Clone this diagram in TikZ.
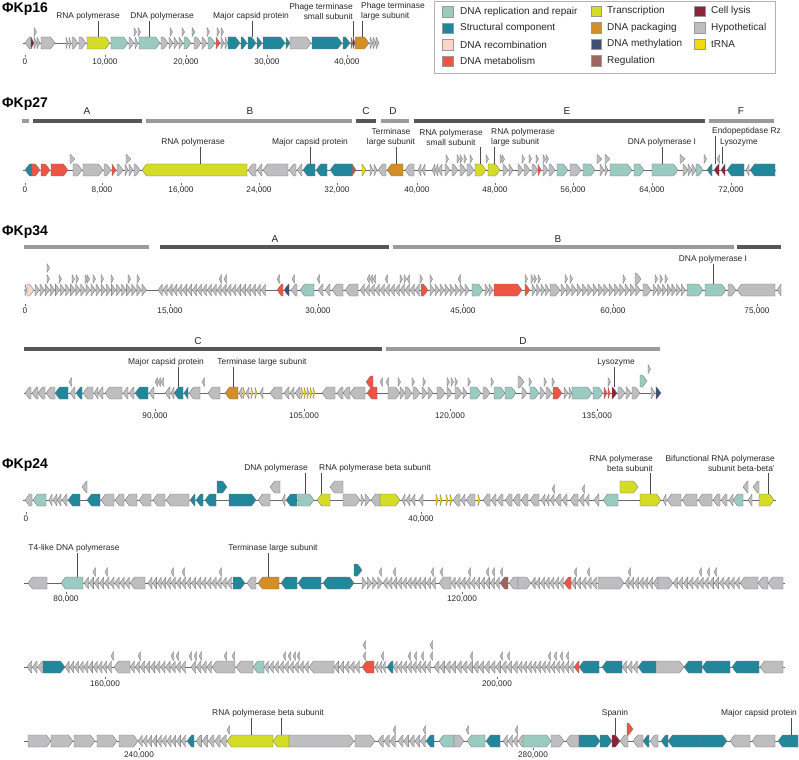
\documentclass[tikz,border=0pt]{standalone}
\usepackage{fontspec}
\setmainfont{Liberation Sans}
\definecolor{rep}{HTML}{9BCAC0}
\definecolor{struct}{HTML}{22879A}
\definecolor{recomb}{HTML}{F9D6C8}
\definecolor{metab}{HTML}{EE5444}
\definecolor{trans}{HTML}{D5DC26}
\definecolor{pack}{HTML}{D38E27}
\definecolor{meth}{HTML}{3E5173}
\definecolor{regul}{HTML}{A0645F}
\definecolor{lysis}{HTML}{8C2339}
\definecolor{hyp}{HTML}{BEBEC0}
\definecolor{trna}{HTML}{F5D90A}
\definecolor{segdark}{HTML}{575757}
\definecolor{seglight}{HTML}{9B9B9B}

% one gene: [half height] from, to, lane y, direction (1 right, -1 left), colour
\newcommand{\gene}[6][6]{%
  \pgfmathsetmacro\gh{min(4.5,(#3)-(#2))}%
  \ifnum#5>0
    \draw[genebox,fill=#6] (#2,#4-#1) -- ({#3-\gh},#4-#1) -- (#3,#4) -- ({#3-\gh},#4+#1) -- (#2,#4+#1) -- cycle;
  \else
    \draw[genebox,fill=#6] (#3,#4-#1) -- ({#2+\gh},#4-#1) -- (#2,#4) -- ({#2+\gh},#4+#1) -- (#3,#4+#1) -- cycle;
  \fi}
% a run of small hypothetical genes: from, to, count, lane y, direction
\newcommand{\genrun}[5]{%
  \foreach \i in {1,...,#3}{%
    \pgfmathsetmacro\ra{#1+(\i-1)*(#2-#1)/#3}%
    \pgfmathsetmacro\rb{\ra+(#2-#1)/#3-0.6}%
    \gene{\ra}{\rb}{#4}{#5}{hyp}}}
% tick marks and numbers: tag, baseline, list
\newcommand{\tickrow}[3]{%
  \foreach \t/\l in {#3}{%
    \draw[tickmark] (\t,#2-9.5) -- (\t,#2-7.5);
    \node[tick] (#1-\t) at (\t,#2) {\l};}}

\begin{document}
\begin{tikzpicture}[x=1pt,y=-1pt,
    genebox/.style={draw=black!55,line width=0.3pt,line join=round},
    spine/.style={draw=black!60,line width=0.6pt},
    leader/.style={draw=black!70,line width=0.4pt},
    tickmark/.style={draw=black!60,line width=0.4pt},
    lbl/.style={font=\fontsize{8.4}{10}\selectfont,inner sep=1pt,text=black!85},
    tick/.style={font=\fontsize{8.2}{10}\selectfont,inner sep=0pt,anchor=base,text=black!85},
    title/.style={font=\bfseries\fontsize{14}{16}\selectfont,anchor=base west,inner sep=0pt},
    seg/.style={line width=3.5pt},
    seglbl/.style={font=\fontsize{10}{12}\selectfont,anchor=base,inner sep=0pt,text=black!85},
    swatch/.style={draw=black!40,line width=0.4pt,minimum size=10.5pt,inner sep=0pt},
    key/.style={font=\fontsize{10}{12}\selectfont,anchor=west,inner sep=0pt,text=black!85}]
  \useasboundingbox (0,0) rectangle (799,759);

  % Legend
  \draw[black!30,line width=0.5pt] (434,1) rectangle (775,73);
  \foreach \col/\txt [count=\k] in {rep/DNA replication and repair,struct/Structural component,recomb/DNA recombination,metab/DNA metabolism}{
    \node[swatch,fill=\col] (sw-\col) at (447.5,{11.5+16.5*(\k-1)}) {};
    \node[key] (key-\col) at (460,{11.5+16.5*(\k-1)}) {\txt};}
  \foreach \col/\txt [count=\k] in {trans/Transcription,pack/DNA packaging,meth/DNA methylation,regul/Regulation}{
    \node[swatch,fill=\col] (sw-\col) at (596,{11+16.5*(\k-1)}) {};
    \node[key] (key-\col) at (607,{11+16.5*(\k-1)}) {\txt};}
  \foreach \col/\txt [count=\k] in {lysis/Cell lysis,hyp/Hypothetical,trna/tRNA}{
    \node[swatch,fill=\col] (sw-\col) at (699.5,{11+16.5*(\k-1)}) {};
    \node[key] (key-\col) at (711,{11+16.5*(\k-1)}) {\txt};}

  % ---------------- PhiKp16 ----------------
  \node[title] (tKp16) at (2,13) {ΦKp16};
  \draw[spine] (23,43) -- (379,43);
  \foreach \xa/\xb/\dr/\col in {25/31/-1/hyp,31/34/1/lysis,34/37/1/hyp,37/40/1/hyp,41/55/1/hyp,66/68/1/hyp,69/71/1/hyp,72/78/1/hyp,79/86/1/hyp,
      87/110/1/trans,111/128/1/rep,129/134/1/hyp,135/138/1/hyp,139/160/1/rep,161/168/1/hyp,169/173/1/hyp,174/178/1/hyp,179/183/1/hyp,
      184/191/1/rep,194/201/1/hyp,202/207/1/hyp,208/215/1/rep,216/220/1/metab,221/224/1/hyp,225/228/1/hyp,228/240/1/struct,241/247/1/struct,
      248/256/1/struct,257/262/1/struct,263/285/1/struct,286/290/1/struct,290/311/1/hyp,312/342/1/struct,343/350/1/struct,351/353/1/regul,
      353/355/1/lysis,355/369/1/pack,370/373/1/hyp,373/376/1/hyp,376/379/1/hyp}
    {\gene{\xa}{\xb}{43}{\dr}{\col}}
  \foreach \u in {34,134,138,170,182,207,217,221} {\gene[4.5]{\u}{\u+2.5}{32}{1}{hyp}}
  \gene[4.5]{192}{195}{32}{1}{rep}
  \tickrow{t16}{65}{25/0,105/{10,000},186/{20,000},267/{30,000},347/{40,000}}
  \node[lbl,anchor=south] (lRnaPol16) at (88,21) {RNA polymerase};
  \node[lbl,anchor=south] (lDnaPol16) at (162,21) {DNA polymerase};
  \node[lbl,anchor=south] (lCapsid16) at (251,21) {Major capsid protein};
  \node[lbl,anchor=south east,align=right] (lTermS16) at (354,21) {Phage terminase\\small subunit};
  \node[lbl,anchor=south west,align=left] (lTermL16) at (360,21) {Phage terminase\\large subunit};
  \coordinate (gRnaPol16) at (98,37);
  \coordinate (gDnaPol16) at (149,37);
  \coordinate (gCapsid16) at (252,37);
  \coordinate (gTermS16) at (353,37);
  \coordinate (gTermL16) at (362,37);
  \foreach \n in {RnaPol16,DnaPol16,Capsid16,TermS16,TermL16}
    \draw[leader] (l\n.south -| g\n) -- (g\n);

  % ---------------- PhiKp27 ----------------
  \node[title] (tKp27) at (2,108) {ΦKp27};
  \draw[seg,seglight] (22,121) -- (29,121);
  \draw[seg,segdark] (33,121) -- (142,121);
  \draw[seg,seglight] (146,121) -- (352,121);
  \draw[seg,segdark] (356,121) -- (376,121);
  \draw[seg,seglight] (381,121) -- (409,121);
  \draw[seg,segdark] (414,121) -- (705,121);
  \draw[seg,seglight] (709,121) -- (774,121);
  \foreach \s/\x in {A/87,B/250,C/366,D/393,E/567,F/741}
    \node[seglbl] (s27\s) at (\x,115) {\s};
  \draw[spine] (23,170) -- (776,170);
  \foreach \xa/\xb/\dr/\col in {25/32/-1/struct,32/40/1/metab,41/50/1/metab,51/68/1/metab,73/82/1/hyp,83/103/1/hyp,104/111/1/hyp,112/116/1/metab,
      117/123/1/hyp,125/128/1/hyp,129/133/1/hyp,134/140/1/hyp,142/247/-1/trans,248/256/-1/hyp,257/262/-1/hyp,263/288/-1/hyp,289/296/-1/hyp,
      297/302/-1/hyp,303/315/-1/struct,316/327/-1/struct,330/352/-1/struct,352/356/1/regul,362/366/1/trna,370/373/1/hyp,374/377/1/hyp,
      378/386/-1/hyp,387/403/-1/pack,405/414/-1/hyp,418/421/-1/hyp,422/425/-1/hyp,432/435/-1/hyp,435/438/-1/hyp,438/442/-1/hyp,
      445/450/1/hyp,452/458/1/hyp,460/466/1/hyp,467/474/1/hyp,475/486/1/trans,488/500/1/trans,503/508/1/hyp,509/513/1/hyp,518/523/1/hyp,
      524/530/1/hyp,532/538/1/hyp,538/541/1/metab,543/548/1/hyp,549/555/1/hyp,557/568/1/rep,570/581/1/hyp,583/595/1/rep,600/604/1/hyp,
      605/608/1/hyp,610/632/1/rep,634/644/1/rep,652/678/1/rep,683/688/1/hyp,688/692/1/hyp,692/696/1/hyp,696/703/1/rep,707/712/-1/struct,
      714/719/-1/lysis,721/725/-1/lysis,727/744/-1/struct,746/749/-1/hyp,750/775/-1/struct}
    {\gene{\xa}{\xb}{170}{\dr}{\col}}
  \foreach \u in {446,457,460,464,470,486,500,502,522,529,536,543,546,704} {\gene[4.5]{\u}{\u+2.5}{159}{1}{hyp}}
  \foreach \u in {70,126,597,605,680} {\gene[4.5]{\u}{\u+5}{159}{1}{hyp}}
  \gene[4.5]{717}{719.5}{159}{-1}{hyp}
  \tickrow{t27}{193}{25/0,102/{8,000},181/{16,000},259/{24,000},337/{32,000},417/{40,000},495/{48,000},573/{56,000},652/{64,000},731/{72,000}}
  \node[lbl,anchor=south] (lRnaPol27) at (193,147) {RNA polymerase};
  \node[lbl,anchor=south] (lCapsid27) at (310,147) {Major capsid protein};
  \node[lbl,anchor=south,align=center] (lTerm27) at (391,147) {Terminase\\large subunit};
  \node[lbl,anchor=south,align=center] (lRnaS27) at (451,147) {RNA polymerase\\small subunit};
  \node[lbl,anchor=south west,align=left] (lRnaL27) at (490,147) {RNA polymerase\\large subunit};
  \node[lbl,anchor=south] (lDnaPol27) at (662,147) {DNA polymerase I};
  \node[lbl,anchor=south west] (lEndo27) at (711,136) {Endopeptidase Rz};
  \node[lbl,anchor=south west] (lLyso27) at (719,147) {Lysozyme};
  \coordinate (gRnaPol27) at (200,164);
  \coordinate (gCapsid27) at (310,164);
  \coordinate (gTerm27) at (396,164);
  \coordinate (gRnaS27) at (480,164);
  \coordinate (gRnaL27) at (494,164);
  \coordinate (gDnaPol27) at (662,164);
  \coordinate (gEndo27) at (715,164);
  \coordinate (gLyso27) at (722,164);
  \foreach \n in {RnaPol27,Capsid27,Term27,RnaS27,RnaL27,DnaPol27,Lyso27}
    \draw[leader] (l\n.south -| g\n) -- (g\n);
  \draw[leader] (lEndo27.south -| gEndo27) -- (gEndo27);

  % ---------------- PhiKp34 ----------------
  \node[title] (tKp34) at (2,235) {ΦKp34};
  \draw[seg,seglight] (24,247) -- (149,247);
  \draw[seg,segdark] (160,247) -- (389,247);
  \draw[seg,seglight] (393,247) -- (734,247);
  \draw[seg,segdark] (737,247) -- (781,247);
  \node[seglbl] (s34A) at (275,242) {A};
  \node[seglbl] (s34B) at (558,242) {B};
  \draw[spine] (24,290) -- (781,290);
  \gene{25}{27}{290}{1}{hyp}
  \gene{27}{34}{290}{1}{recomb}
  \genrun{35}{147}{22}{290}{1}
  \genrun{158}{266}{22}{290}{-1}
  \foreach \xa/\xb/\dr/\col in {277/283/-1/metab,284/289/-1/meth,291/297/-1/hyp,300/314/-1/rep,318/323/-1/hyp,325/330/-1/hyp,332/343/-1/hyp,
      345/358/-1/hyp,421/428/1/metab,472/483/1/rep,485/489/1/hyp,489/493/1/hyp,494/522/1/metab,525/530/1/metab,550/560/1/hyp,643/651/1/hyp,
      687/703/1/rep,705/726/1/rep,728/736/1/hyp,737/775/-1/hyp,777/781/-1/hyp}
    {\gene{\xa}{\xb}{290}{\dr}{\col}}
  \genrun{360}{420}{12}{290}{-1}
  \genrun{430}{470}{8}{290}{1}
  \genrun{532}{550}{4}{290}{1}
  \genrun{561}{641}{15}{290}{1}
  \genrun{653}{686}{7}{290}{1}
  \foreach \u in {47,59,72,76,85,87,93,101,111,128,137,400,404,420,430,525,531,534,538,565,570,623,655,660,665} {\gene[4.5]{\u}{\u+2.5}{279}{1}{hyp}}
  \foreach \u in {219,224,277,292,317,367,370,373,385,407,458} {\gene[4.5]{\u}{\u+2.5}{279}{-1}{hyp}}
  \gene[4.5]{47}{49.5}{268}{1}{hyp}
  \gene{635}{641}{279}{1}{hyp}
  \tickrow{t34}{313}{25/0,170/{15,000},318/{30,000},463/{45,000},613/{60,000},757/{75,000}}
  \node[lbl,anchor=south] (lDnaPol34) at (713,264) {DNA polymerase I};
  \coordinate (gDnaPol34) at (713,284);
  \draw[leader] (lDnaPol34.south -| gDnaPol34) -- (gDnaPol34);

  % PhiKp34, second line
  \draw[seg,segdark] (24,349) -- (382,349);
  \draw[seg,seglight] (386,349) -- (660,349);
  \node[seglbl] (s34C) at (198,344) {C};
  \node[seglbl] (s34D) at (523,344) {D};
  \draw[spine] (24,393) -- (661,393);
  \foreach \xa/\xb/\dr/\col in {25/31/-1/hyp,32/38/-1/hyp,38/45/-1/hyp,46/55/-1/hyp,55/68/-1/struct,70/75/-1/hyp,76/82/-1/struct,83/93/-1/hyp,
      94/98/-1/hyp,98/103/-1/hyp,105/122/-1/hyp,123/128/-1/hyp,129/134/-1/hyp,135/148/-1/struct,149/154/-1/hyp,165/170/-1/hyp,171/174/-1/hyp,
      174/183/-1/struct,184/188/-1/struct,189/200/-1/hyp,208/220/-1/hyp,225/238/-1/pack,239/242/-1/hyp,243/245/1/trna,246/249/-1/hyp,
      251/253/1/trna,255/257/1/trna,260/263/-1/hyp,270/282/-1/hyp,284/289/-1/hyp,290/294/-1/hyp,295/300/-1/hyp,301/303/1/trna,304/306/1/trna,
      307/309/1/hyp,310/312/1/trna,313/315/1/trna,322/335/-1/hyp,337/343/-1/hyp,343/350/-1/hyp,350/365/-1/hyp,367/377/-1/metab,388/400/1/hyp,
      400/405/1/hyp,405/412/1/hyp,413/420/1/hyp,422/427/1/hyp,428/433/1/hyp,437/445/1/hyp,447/452/1/hyp,455/462/1/hyp,463/467/1/hyp,
      470/481/1/rep,483/490/1/hyp,494/505/1/rep,505/516/1/rep,522/527/1/hyp,530/539/1/rep,540/545/1/hyp,546/552/1/hyp,553/562/1/metab,
      564/568/1/hyp,569/572/1/hyp,572/592/1/rep,593/603/1/rep,604/607/1/metab,608/610/1/metab,612/617/1/lysis,618/625/1/hyp,626/631/1/hyp,
      632/640/1/hyp,651/655/1/hyp,656/661/1/meth}
    {\gene{\xa}{\xb}{393}{\dr}{\col}}
  \foreach \u in {69,155,158,161,202,380,386} {\gene[4.5]{\u}{\u+2.5}{382}{-1}{hyp}}
  \foreach \u in {398,412,423,447,451,455,468,491,529,544,552,608} {\gene[4.5]{\u}{\u+2.5}{382}{1}{hyp}}
  \gene{366}{373}{382}{-1}{metab}
  \gene{518}{524}{382}{1}{hyp}
  \gene{640}{647}{381}{1}{rep}
  \gene[4.5]{648}{650.5}{369}{1}{hyp}
  \tickrow{t34b}{418}{155/{90,000},304/{105,000},450/{120,000},597/{135,000}}
  \node[lbl,anchor=south] (lCapsid34) at (166,367) {Major capsid protein};
  \node[lbl,anchor=south] (lTerm34) at (262,367) {Terminase large subunit};
  \node[lbl,anchor=south] (lLyso34) at (616,367) {Lysozyme};
  \coordinate (gCapsid34) at (178,387);
  \coordinate (gTerm34) at (233,387);
  \coordinate (gLyso34) at (614,387);
  \foreach \n in {Capsid34,Term34,Lyso34}
    \draw[leader] (l\n.south -| g\n) -- (g\n);

  % ---------------- PhiKp24 ----------------
  \node[title] (tKp24) at (2,468) {ΦKp24};
  \draw[spine] (23,500) -- (776,500);
  \foreach \xa/\xb/\dr/\col in {25/32/-1/hyp,33/46/-1/rep,49/52/-1/hyp,53/57/-1/hyp,57/61/-1/hyp,62/67/-1/hyp,68/80/-1/struct,87/100/-1/struct,
      101/114/-1/hyp,115/124/-1/hyp,125/137/-1/hyp,139/151/-1/hyp,153/165/-1/hyp,166/189/-1/hyp,190/195/-1/struct,196/203/-1/struct,
      205/216/-1/struct,229/256/1/struct,258/270/-1/hyp,282/285/-1/hyp,286/297/-1/struct,298/314/1/rep,317/330/-1/trans,343/360/1/hyp,
      361/364/1/hyp,365/370/1/hyp,371/380/-1/hyp,380/400/1/trans,402/405/-1/hyp,406/410/-1/hyp,411/415/-1/hyp,419/423/-1/hyp,436/438/1/trna,
      440/442/1/trna,446/448/1/trna,450/452/1/trna,453/460/-1/hyp,461/465/-1/hyp,466/475/-1/hyp,478/480/1/trna,483/490/-1/hyp,491/496/-1/hyp,
      497/503/-1/hyp,505/512/-1/hyp,513/520/-1/hyp,521/528/-1/hyp,530/539/-1/hyp,541/545/-1/hyp,546/549/-1/hyp,550/554/-1/hyp,555/561/-1/hyp,
      562/567/-1/hyp,570/578/-1/hyp,579/584/-1/hyp,585/589/-1/hyp,594/599/-1/hyp,603/618/-1/rep,640/661/1/trans,663/666/-1/hyp,667/681/-1/hyp,
      682/697/-1/hyp,698/712/-1/hyp,713/720/-1/hyp,721/727/-1/hyp,729/733/-1/hyp,733/743/-1/rep,748/752/-1/hyp,759/774/1/trans}
    {\gene{\xa}{\xb}{500}{\dr}{\col}}
  \foreach \xa/\xb/\dr/\col in {82/87/-1/hyp,217/227/1/struct,270/280/-1/hyp,330/343/-1/hyp,620/638/1/trans,743/748/-1/hyp,753/759/-1/hyp}
    {\gene{\xa}{\xb}{487}{\dr}{\col}}
  \foreach \u in {552,582} {\gene[4.5]{\u}{\u+2.5}{489}{-1}{hyp}}
  \tickrow{t24}{521}{26/0,421/{40,000}}
  \node[lbl,anchor=south] (lDnaPol24) at (276,473) {DNA polymerase};
  \node[lbl,anchor=south west] (lRnaB24) at (318,473) {RNA polymerase beta subunit};
  \node[lbl,anchor=south east,align=right] (lRnaB24b) at (654,473) {RNA polymerase\\beta subunit};
  \node[lbl,anchor=south east,align=right] (lBifun24) at (776,473) {Bifunctional RNA polymerase\\subunit beta-beta'};
  \coordinate (gDnaPol24) at (305,494);
  \coordinate (gRnaB24) at (321,494);
  \coordinate (gRnaB24b) at (650,494);
  \coordinate (gBifun24) at (768,494);
  \foreach \n in {DnaPol24,RnaB24,RnaB24b,Bifun24}
    \draw[leader] (l\n.south -| g\n) -- (g\n);

  % PhiKp24, second line
  \draw[spine] (24,583) -- (785,583);
  \foreach \xa/\xb/\dr/\col in {28/47/-1/hyp,61/83/-1/rep,130/145/-1/hyp,233/245/1/struct,247/256/-1/hyp,258/279/-1/pack,281/297/-1/struct,
      298/321/-1/struct,323/332/-1/struct,332/354/1/struct,439/451/-1/hyp,500/508/-1/regul,509/518/-1/hyp,518/531/1/hyp,564/571/-1/metab,
      598/624/1/hyp,658/673/1/hyp,740/758/-1/hyp,758/768/-1/hyp,768/783/-1/hyp}
    {\gene{\xa}{\xb}{583}{\dr}{\col}}
  \genrun{84}{130}{9}{583}{-1}
  \genrun{148}{171}{5}{583}{-1}
  \genrun{171}{232}{12}{583}{-1}
  \genrun{362}{383}{4}{583}{1}
  \genrun{383}{436}{11}{583}{-1}
  \genrun{451}{500}{10}{583}{-1}
  \genrun{531}{564}{7}{583}{-1}
  \genrun{571}{597}{5}{583}{-1}
  \genrun{625}{658}{7}{583}{-1}
  \genrun{673}{740}{13}{583}{-1}
  \foreach \u in {93,105,171,182,219,379,393,431,440,468,486,492,500,574,587,628,699,707,714} {\gene[4.5]{\u}{\u+2.5}{572}{-1}{hyp}}
  \gene{354}{362}{570}{1}{struct}
  \tickrow{t24b}{601}{66/{80,000},462/{120,000}}
  \node[lbl,anchor=south] (lT4Pol24) at (74,553) {T4-like DNA polymerase};
  \node[lbl,anchor=south] (lTerm24) at (273,553) {Terminase large subunit};
  \coordinate (gT4Pol24) at (77,577);
  \coordinate (gTerm24) at (268,577);
  \foreach \n in {T4Pol24,Term24}
    \draw[leader] (l\n.south -| g\n) -- (g\n);

  % PhiKp24, third line
  \draw[spine] (24,667) -- (785,667);
  \foreach \xa/\xb/\dr/\col in {43/65/1/struct,114/130/-1/hyp,212/235/-1/hyp,236/253/-1/hyp,253/264/-1/rep,309/334/-1/hyp,362/374/-1/metab,
      387/393/-1/struct,574/579/-1/metab,579/599/-1/struct,602/622/-1/struct,638/656/-1/struct,656/684/1/hyp,684/702/-1/struct,702/730/-1/struct,
      732/759/-1/struct,760/783/-1/hyp}
    {\gene{\xa}{\xb}{667}{\dr}{\col}}
  \genrun{27}{43}{3}{667}{-1}
  \genrun{65}{112}{10}{667}{-1}
  \genrun{130}{186}{11}{667}{-1}
  \genrun{191}{212}{4}{667}{-1}
  \genrun{264}{309}{9}{667}{-1}
  \genrun{334}{360}{5}{667}{-1}
  \genrun{375}{386}{3}{667}{-1}
  \genrun{393}{431}{8}{667}{-1}
  \genrun{434}{462}{5}{667}{-1}
  \genrun{462}{518}{10}{667}{-1}
  \genrun{518}{574}{12}{667}{-1}
  \genrun{622}{638}{3}{667}{-1}
  \foreach \u in {111,138,171,176,189,194,199,224,232,283,288,293,297,363,381,408,414,421,430,470,500,507,548,554,560,566} {\gene[4.5]{\u}{\u+2.5}{656}{-1}{hyp}}
  \foreach \u in {363,430} {\gene[4.5]{\u}{\u+2.5}{645}{-1}{hyp}}
  \tickrow{t24c}{686}{105/{160,000},497/{200,000}}

  % PhiKp24, fourth line
  \draw[spine] (24,741) -- (798,741);
  \foreach \xa/\xb/\dr/\col in {28/51/1/hyp,51/73/1/hyp,74/95/1/hyp,97/117/1/hyp,119/138/1/hyp,187/194/-1/struct,227/273/-1/trans,273/289/-1/trans,
      289/354/1/hyp,355/375/1/hyp,426/434/-1/struct,439/454/-1/rep,454/464/1/hyp,467/485/-1/rep,486/500/-1/struct,523/551/1/rep,551/564/1/hyp,
      566/579/-1/hyp,579/600/1/struct,600/612/1/struct,612/620/1/lysis,620/628/-1/hyp,633/643/-1/hyp,643/649/-1/struct,650/658/-1/hyp,
      661/668/-1/struct,668/699/-1/struct,699/727/1/struct,730/750/-1/hyp,752/775/-1/hyp,778/798/-1/struct}
    {\gene{\xa}{\xb}{741}{\dr}{\col}}
  \genrun{138}{186}{10}{741}{-1}
  \genrun{196}{227}{5}{741}{-1}
  \genrun{378}{396}{3}{741}{-1}
  \genrun{398}{426}{5}{741}{-1}
  \genrun{503}{523}{4}{741}{-1}
  \foreach \u in {227,393,423,466,515} {\gene[4.5]{\u}{\u+2.5}{730}{-1}{hyp}}
  \gene{627}{633}{729}{1}{metab}
  \tickrow{t24d}{757}{139/{240,000},533/{280,000}}
  \node[lbl,anchor=south] (lRnaB24d) at (268,718) {RNA polymerase beta subunit};
  \node[lbl,anchor=south] (lSpanin24) at (615,718) {Spanin};
  \node[lbl,anchor=south east] (lCapsid24) at (798,718) {Major capsid protein};
  \coordinate (gRnaB24d) at (251,735);
  \coordinate (gRnaB24e) at (281,735);
  \coordinate (gSpanin24) at (615,735);
  \coordinate (gCapsid24) at (791,735);
  \draw[leader] (lRnaB24d.south -| gRnaB24d) -- (gRnaB24d);
  \draw[leader] (lRnaB24d.south -| gRnaB24e) -- (gRnaB24e);
  \draw[leader] (lSpanin24.south -| gSpanin24) -- (gSpanin24);
  \draw[leader] (lCapsid24.south -| gCapsid24) -- (gCapsid24);
\end{tikzpicture}
\end{document}
